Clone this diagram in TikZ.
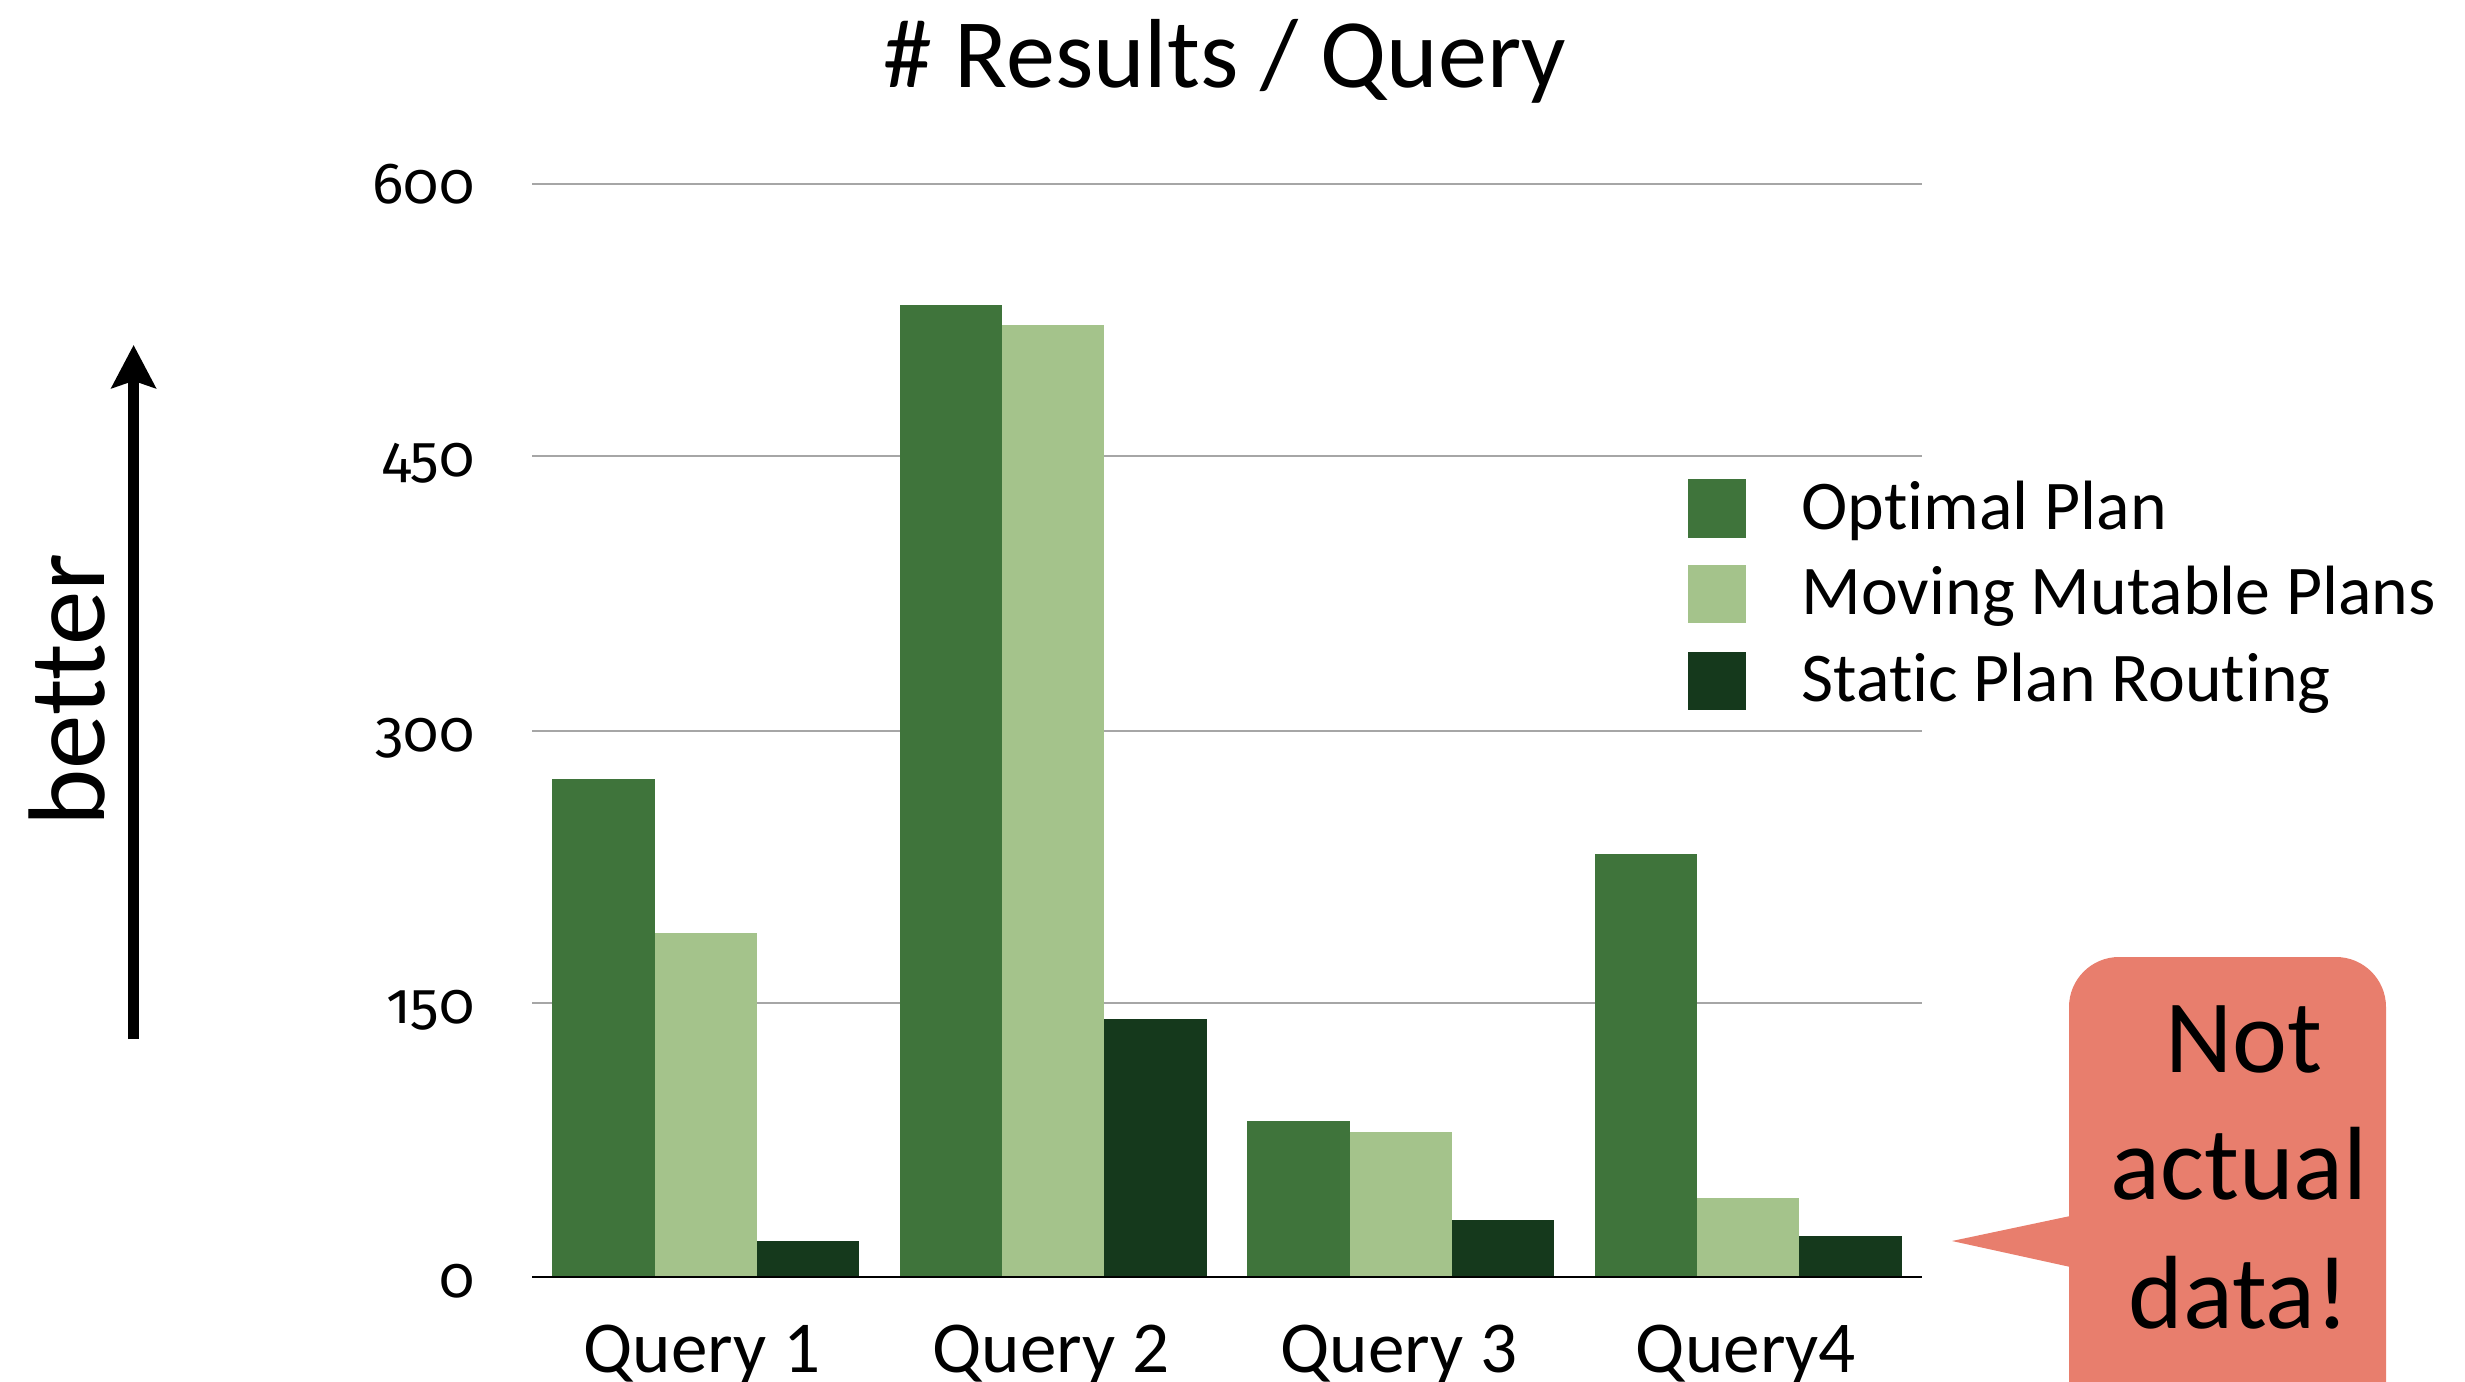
\documentclass[tikz,border=0pt]{standalone}
\usepackage{fontspec}
\setmainfont{Carlito}[Ligatures=NoCommon]
\newfontfamily\tickfont{Fira Sans}[Numbers=OldStyle]
\usetikzlibrary{arrows.meta}

\definecolor{optimal}{RGB}{63,116,59}
\definecolor{mutable}{RGB}{164,195,139}
\definecolor{static}{RGB}{21,57,28}
\definecolor{gridgray}{RGB}{166,166,166}
\definecolor{callout}{RGB}{232,126,109}

\begin{document}
\begin{tikzpicture}[
  x=0.01cm, y=-0.01cm,
  gridline/.style={draw=gridgray, line width=0.85pt},
  axisline/.style={draw=black, line width=0.85pt},
  ticklabel/.style={anchor=base east, inner sep=0pt, font=\tickfont\fontsize{16.5}{20}\selectfont},
  catlabel/.style={anchor=base, inner sep=0pt, font=\fontsize{20.8}{24}\selectfont},
  legendtext/.style={anchor=base west, inner sep=0pt, font=\fontsize{19.85}{24}\selectfont},
  titletext/.style={anchor=base, inner sep=0pt, font=\fontsize{27.9}{32}\selectfont},
  bettertext/.style={anchor=base, inner sep=0pt, rotate=90, font=\fontsize{31}{36}\selectfont},
  callouttext/.style={anchor=base, inner sep=0pt, font=\fontsize{29.6}{36}\selectfont},
  upperarrow/.style={line width=3pt, -{Stealth[length=12.2pt,width=12.5pt,inset=2pt]}},
]
\useasboundingbox (0,0) rectangle (2465,1382);
\clip (0,0) rectangle (2465,1382);

% title
\node[titletext] (title) at (1225,88) {\# Results / Query};

% horizontal grid lines and tick labels
\foreach \v/\y in {600/184, 450/456, 300/731, 150/1003} {
  \draw[gridline] (532,\y) -- (1922,\y);
  \node[ticklabel] (tick\v) at (475,\y+20) {\v};
}
\node[ticklabel] (tick0) at (475,1297) {0};

% bars: one group of three per query
\foreach \i/\a/\b/\c in {0/779/933/1241, 1/305/325/1019, 2/1121/1132/1220, 3/853.6/1198/1236} {
  \pgfmathsetmacro\xs{552.45+\i*347.5}
  \fill[optimal] (\xs,\a) rectangle (\xs+102.2,1277);
  \fill[mutable] (\xs+102.2,\b) rectangle (\xs+204.4,1277);
  \fill[static]  (\xs+204.4,\c) rectangle (\xs+306.6,1277);
}

% category axis
\draw[axisline] (532,1277) -- (1922,1277);
\node[catlabel] (q1) at (702,1372) {Query 1};
\node[catlabel] (q2) at (1051,1372) {Query 2};
\node[catlabel] (q3) at (1399,1372) {Query 3};
\node[catlabel] (q4) at (1746,1372) {Query4};

% legend
\fill[optimal] (1688,479) rectangle (1746,538);
\fill[mutable] (1688,565) rectangle (1746,623);
\fill[static]  (1688,652) rectangle (1746,710);
\node[legendtext] (leg1) at (1801,529) {Optimal Plan};
\node[legendtext] (leg2) at (1801,614) {Moving Mutable Plans};
\node[legendtext] (leg3) at (1801,701) {Static Plan Routing};

% "better" arrow
\node[bettertext] (better) at (104,690) {better};
\coordinate (arrowbase) at (133.6,1039);
\coordinate (arrowtip) at (133.6,345);
\draw[upperarrow] (arrowbase) -- (arrowtip);

% speech bubble
\fill[callout, rounded corners=0.5cm] (2069,957) rectangle (2386,1460);
\coordinate (pointer) at (1952,1241);
\fill[callout] (2075,1215) -- (pointer) -- (2075,1268) -- cycle;
\node[callouttext] (c1) at (2244,1072) {Not};
\node[callouttext] (c2) at (2239,1199) {actual};
\node[callouttext] (c3) at (2239,1328) {data!};
\end{tikzpicture}
\end{document}
